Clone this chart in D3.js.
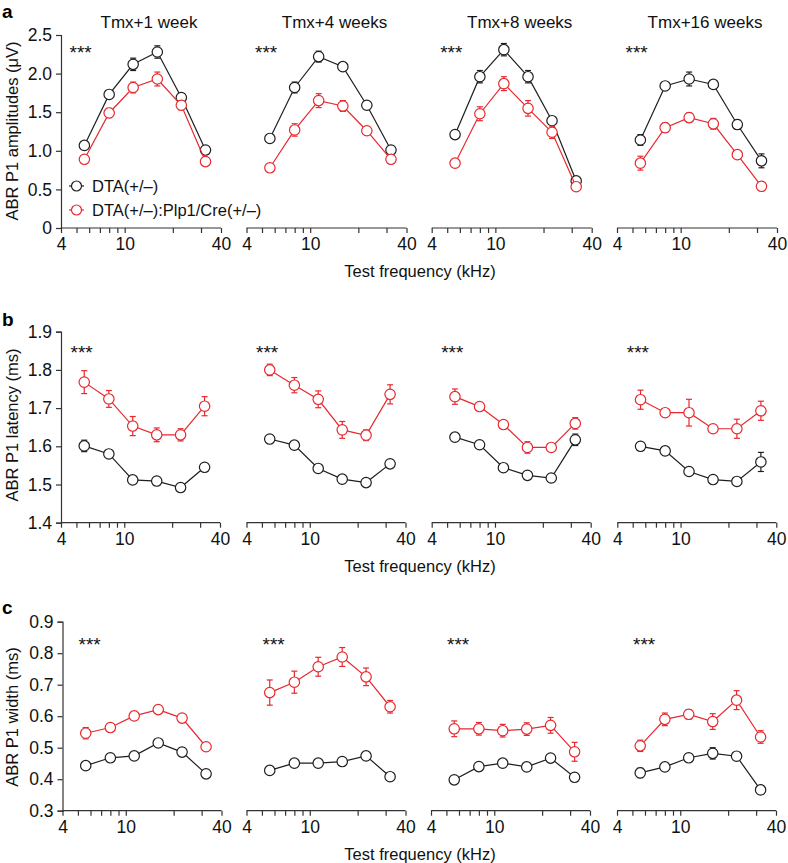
<!DOCTYPE html>
<html><head><meta charset="utf-8">
<script src="https://cdn.jsdelivr.net/npm/d3@7"></script>
<style>body{margin:0;background:#fff}svg{display:block}text{font-family:"Liberation Sans",Arial,sans-serif}</style>
</head><body><svg id="c" width="788" height="863"></svg>
<script>
const freqs = [5.6, 8, 11.3, 16, 22.6, 32];
const xTicks = [4, 5, 6, 7, 8, 9, 10, 20, 30, 40];
const xTickLabels = [4, 10, 40];
const panelTitles = ["Tmx+1 week", "Tmx+4 weeks", "Tmx+8 weeks", "Tmx+16 weeks"];
const legendLabels = ["DTA(+/\u2013)", "DTA(+/\u2013):Plp1/Cre(+/\u2013)"];

// Row a: ABR P1 amplitudes (µV)
const ampCtrl = [[1.07,1.73,2.12,2.28,1.69,1.01],[1.16,1.82,2.22,2.09,1.59,1.01],[1.21,1.96,2.31,1.96,1.39,0.61],[1.14,1.84,1.93,1.86,1.34,0.87]];
const ampCtrlErr = [[0.03,0.03,0.08,0.08,0.04,0.03],[0.03,0.07,0.07,0.05,0.04,0.04],[0.04,0.08,0.08,0.08,0.04,0.03],[0.07,0.03,0.09,0.05,0.06,0.09]];
const ampMut = [[0.89,1.49,1.82,1.93,1.59,0.86],[0.78,1.27,1.65,1.58,1.26,0.89],[0.84,1.48,1.87,1.55,1.24,0.535],[0.84,1.30,1.43,1.35,0.95,0.54]];
const ampMutErr = [[0.03,0.06,0.07,0.09,0.06,0.04],[0.03,0.08,0.09,0.07,0.04,0.03],[0.03,0.09,0.09,0.10,0.08,0.03],[0.09,0.06,0.06,0.07,0.03,0.03]];
const ampTicks = [0, 0.5, 1.0, 1.5, 2.0, 2.5];

// Row b: ABR P1 latency (ms)
const latCtrl = [[1.601,1.58,1.512,1.509,1.492,1.545],[1.619,1.603,1.542,1.514,1.505,1.554],[1.624,1.604,1.544,1.524,1.517,1.617],[1.600,1.588,1.534,1.513,1.508,1.559]];
const latCtrlErr = [[0.015,0.01,0.008,0.01,0.01,0.008],[0.008,0.008,0.008,0.008,0.008,0.008],[0.008,0.008,0.008,0.008,0.008,0.015],[0.008,0.008,0.008,0.008,0.01,0.025]];
const latMut = [[1.768,1.724,1.653,1.630,1.630,1.705],[1.800,1.760,1.723,1.643,1.629,1.736],[1.730,1.704,1.657,1.597,1.597,1.660],[1.722,1.688,1.688,1.646,1.646,1.693]];
const latMutErr = [[0.03,0.022,0.025,0.018,0.016,0.025],[0.015,0.02,0.022,0.022,0.014,0.025],[0.02,0.008,0.008,0.015,0.008,0.015],[0.025,0.01,0.035,0.008,0.025,0.025]];
const latTicks = [1.4, 1.5, 1.6, 1.7, 1.8, 1.9];

// Row c: ABR P1 width (ms)
const widCtrl = [[0.443,0.468,0.474,0.515,0.486,0.417],[0.428,0.451,0.451,0.456,0.474,0.408],[0.398,0.440,0.451,0.439,0.467,0.406],[0.420,0.439,0.468,0.482,0.473,0.366]];
const widCtrlErr = [[0.01,0.01,0.01,0.01,0.01,0.01],[0.01,0.01,0.01,0.01,0.01,0.01],[0.01,0.01,0.01,0.01,0.01,0.01],[0.015,0.01,0.01,0.018,0.01,0.01]];
const widMut = [[0.546,0.564,0.601,0.621,0.594,0.503],[0.675,0.708,0.757,0.788,0.725,0.630],[0.560,0.560,0.554,0.559,0.571,0.487],[0.506,0.590,0.606,0.583,0.651,0.534]];
const widMutErr = [[0.018,0.01,0.01,0.01,0.01,0.01],[0.04,0.035,0.03,0.03,0.028,0.02],[0.025,0.02,0.02,0.02,0.025,0.03],[0.018,0.02,0.015,0.025,0.03,0.02]];
const widTicks = [0.3, 0.4, 0.5, 0.6, 0.7, 0.8, 0.9];

const BLACK = "#1e1e1e", RED = "#e8282e", AXIS = "#333";
const svg = d3.select("#c");

const rows = [
  {label:"a", ctrl:ampCtrl, ctrlErr:ampCtrlErr, mut:ampMut, mutErr:ampMutErr, ticks:ampTicks, dom:[0,2.5], fmt:d=>d===0?"0":d3.format(".1f")(d),
   top:35, bottom:228, starts:[61,246.5,431.7,617], w:160, yTitle:"ABR P1 amplitudes (\u03bcV)", yTitleY:131, starOff:8.5, starY:59, labelY:18, titles:true, legend:true},
  {label:"b", ctrl:latCtrl, ctrlErr:latCtrlErr, mut:latMut, mutErr:latMutErr, ticks:latTicks, dom:[1.4,1.9], fmt:d3.format(".1f"),
   top:331.7, bottom:522.7, starts:[61,246.5,431.7,617.3], w:159, yTitle:"ABR P1 latency (ms)", yTitleY:425, starOff:9.5, starY:359, labelY:326},
  {label:"c", ctrl:widCtrl, ctrlErr:widCtrlErr, mut:widMut, mutErr:widMutErr, ticks:widTicks, dom:[0.3,0.9], fmt:d3.format(".1f"),
   top:621.7, bottom:810.7, starts:[62.5,246.5,431,617], w:159, yTitle:"ABR P1 width (ms)", yTitleY:717, starOff:16, starY:651, labelY:614}
];

rows.forEach(r => {
  const y = d3.scaleLinear().domain(r.dom).range([r.bottom, r.top]);
  svg.append("text").attr("x",2).attr("y",r.labelY).attr("font-size",19).attr("font-weight","bold").text(r.label);
  svg.append("text").attr("transform",`translate(18,${r.yTitleY}) rotate(-90)`).attr("text-anchor","middle").attr("font-size",16.5).attr("fill","#111").text(r.yTitle);
  const ya = svg.append("g").attr("transform",`translate(${r.starts[0]},0)`)
    .call(d3.axisLeft(y).tickValues(r.ticks).tickFormat(r.fmt).tickSize(5).tickPadding(4));
  ya.select(".domain").attr("stroke",AXIS).attr("stroke-width",1.2);
  ya.selectAll(".tick line").attr("stroke",AXIS).attr("stroke-width",1.2);
  ya.selectAll("text").attr("font-size",17.5).attr("fill","#111").style("font-family","'Liberation Sans',Arial,sans-serif");

  r.starts.forEach((sx, p) => {
    const x = d3.scaleLog().domain([4,40]).range([sx, sx + r.w]);
    const xa = svg.append("g").attr("transform",`translate(0,${r.bottom})`)
      .call(d3.axisBottom(x).tickValues(xTicks).tickFormat(d => xTickLabels.includes(d) ? d : "").tickSize(5).tickSizeOuter(0).tickPadding(5));
    xa.select(".domain").attr("stroke",AXIS).attr("stroke-width",1.2).attr("d",`M${sx},0H${sx+r.w}`);
    xa.selectAll(".tick line").attr("stroke",AXIS).attr("stroke-width",1.2);
    xa.selectAll("text").attr("font-size",17.5).attr("fill","#111").style("font-family","'Liberation Sans',Arial,sans-serif");

    svg.append("text").attr("x",sx + r.starOff).attr("y",r.starY).attr("font-size",19).attr("fill","#111").text("***");
    if (r.titles) svg.append("text").attr("x",sx + r.w/2 + 8).attr("y",28).attr("text-anchor","middle").attr("font-size",17).attr("fill","#111").text(panelTitles[p]);

    const series = [{v:r.ctrl[p], e:r.ctrlErr[p], c:BLACK},{v:r.mut[p], e:r.mutErr[p], c:RED}];
    series.forEach(s => {
      const g = svg.append("g");
      const pts = freqs.map((f,i) => ({f, v:s.v[i], e:s.e[i]}));
      g.append("path").datum(pts).attr("fill","none").attr("stroke",s.c).attr("stroke-width",1.2)
        .attr("d", d3.line().x(d=>x(d.f)).y(d=>y(d.v)));
      const eb = g.selectAll(".eb").data(pts).enter().append("g").attr("stroke",s.c).attr("stroke-width",1.2);
      eb.append("line").attr("x1",d=>x(d.f)).attr("x2",d=>x(d.f)).attr("y1",d=>y(d.v-d.e)).attr("y2",d=>y(d.v+d.e));
      eb.append("line").attr("x1",d=>x(d.f)-3).attr("x2",d=>x(d.f)+3).attr("y1",d=>y(d.v+d.e)).attr("y2",d=>y(d.v+d.e));
      eb.append("line").attr("x1",d=>x(d.f)-3).attr("x2",d=>x(d.f)+3).attr("y1",d=>y(d.v-d.e)).attr("y2",d=>y(d.v-d.e));
      g.selectAll("circle").data(pts).enter().append("circle").attr("cx",d=>x(d.f)).attr("cy",d=>y(d.v)).attr("r",5.2)
        .attr("fill","#fff").attr("stroke",s.c).attr("stroke-width",1.2);
    });
  });
  svg.append("text").attr("x",420).attr("y",r.bottom + 49).attr("text-anchor","middle").attr("font-size",16.5).attr("fill","#111").text("Test frequency (kHz)");
});

[BLACK, RED].forEach((c,i) => {
  const ly = 186 + i*24;
  svg.append("line").attr("x1",69).attr("x2",84).attr("y1",ly).attr("y2",ly).attr("stroke",c).attr("stroke-width",1.2);
  svg.append("circle").attr("cx",76.5).attr("cy",ly).attr("r",5).attr("fill","#fff").attr("stroke",c).attr("stroke-width",1.2);
  svg.append("text").attr("x",92).attr("y",ly+6).attr("font-size",16.5).attr("fill","#111").text(legendLabels[i]);
});
</script></body></html>
